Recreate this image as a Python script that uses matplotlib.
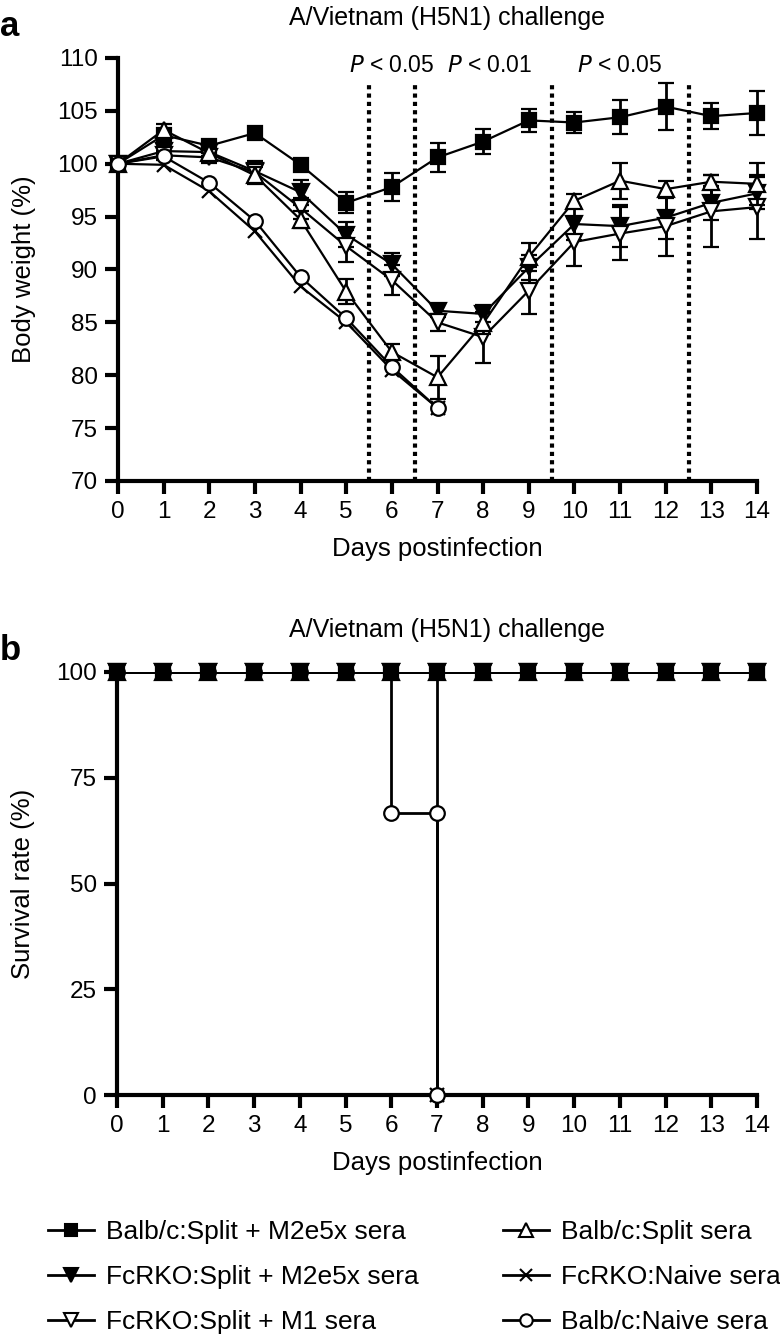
import matplotlib
matplotlib.use("Agg")
import matplotlib.pyplot as plt
from matplotlib.lines import Line2D

plt.rcParams['font.family'] = ['Liberation Sans', 'DejaVu Sans']

# Body weight (%) per day postinfection
days = list(range(15))
days_short = list(range(8))

sq_w = [100, 102.7, 101.7, 102.9, 99.9, 96.3, 97.8, 100.6, 102.1, 104.1, 103.9, 104.4, 105.4, 104.5, 104.8]
sq_e = [0, 0.5, 0.4, 0.4, 0.4, 1.0, 1.3, 1.4, 1.2, 1.1, 1.0, 1.6, 2.2, 1.2, 2.1]
fv_w = [100, 101.2, 101.1, 99.3, 97.3, 93.3, 90.5, 86.1, 85.8, 90.2, 94.3, 94.1, 94.9, 96.3, 97.2]
fv_e = [0, 0.4, 0.4, 1.0, 1.2, 1.2, 1.1, 0.6, 0.8, 1.2, 1.5, 2.0, 2.0, 1.6, 1.5]
ov_w = [100, 100.8, 100.6, 99.2, 95.8, 92.2, 89.0, 85.0, 83.6, 88.0, 92.6, 93.4, 94.1, 95.5, 95.9]
ov_e = [0, 0.4, 0.5, 1.0, 1.0, 1.5, 1.4, 0.8, 2.4, 2.2, 2.3, 2.5, 2.8, 3.4, 3.0]
tu_w = [100, 103.2, 101.0, 98.9, 94.7, 87.9, 82.2, 79.8, 84.9, 91.2, 96.5, 98.4, 97.6, 98.3, 98.1]
tu_e = [0, 0.6, 0.4, 0.8, 0.8, 1.2, 0.8, 2.0, 1.0, 1.3, 0.6, 1.7, 0.8, 0.6, 2.0]
xn_w = [100, 99.9, 97.4, 93.6, 88.4, 85.0, 80.5, 76.9]
ci_w = [100, 100.7, 98.2, 94.6, 89.3, 85.4, 80.8, 76.9]

# Survival rate (%)
surv_all = [100] * 15
xn_sd = [0, 1, 2, 3, 4, 5, 6, 7]
xn_s = [100, 100, 100, 100, 100, 100, 100, 0]
ci_sd = [0, 1, 2, 3, 4, 5, 6, 7, 7]
ci_s = [100, 100, 100, 100, 100, 100, 66.7, 66.7, 0]

labels = ["Balb/c:Split + M2e5x sera", "FcRKO:Split + M2e5x sera", "FcRKO:Split + M1 sera",
          "Balb/c:Split sera", "FcRKO:Naive sera", "Balb/c:Naive sera"]

pvals = ["$P$ < 0.05", "$P$ < 0.01", "$P$ < 0.05"]
p_x = [6.0, 8.15, 11.0]
sig_lines = [5.5, 6.5, 9.5, 12.5]
title = "A/Vietnam (H5N1) challenge"

styles = [
    dict(marker='s', mfc='black', ms=10.5),
    dict(marker='v', mfc='black', ms=12),
    dict(marker='v', mfc='white', ms=12),
    dict(marker='^', mfc='white', ms=12),
    dict(marker='x', mfc='black', ms=10),
    dict(marker='o', mfc='white', ms=10.5),
]

W, H = 780, 1335
fig = plt.figure(figsize=(7.8, 13.35), dpi=100)
ax_a = fig.add_axes([118 / W, 1 - 481 / H, (757 - 118) / W, (481 - 58) / H])
ax_b = fig.add_axes([117 / W, 1 - 1095 / H, (757 - 117) / W, (1095 - 672) / H])

for ax in (ax_a, ax_b):
    for s in ('top', 'right'):
        ax.spines[s].set_visible(False)
    for s in ('left', 'bottom'):
        ax.spines[s].set_linewidth(3)
    ax.tick_params(width=3, length=9.5, direction='out', labelsize=17.5, pad=5)
    ax.set_xlim(0, 14)
    ax.set_xticks(days)

# panel a
series = [(days, sq_w, sq_e), (days, fv_w, fv_e), (days, ov_w, ov_e),
          (days, tu_w, tu_e), (days_short, xn_w, None), (days_short, ci_w, None)]
for i in [4, 5, 3, 2, 1, 0]:
    x, y, e = series[i]
    st = styles[i]
    ax_a.errorbar(x, y, yerr=e, color='black', lw=1.6, marker=st['marker'], ms=st['ms'],
                  mfc=st['mfc'], mec='black', mew=1.6, capsize=5.5, elinewidth=2,
                  capthick=2, clip_on=False, zorder=3 + i)

for xv in sig_lines:
    ax_a.plot([xv, xv], [70, 107.7], ls=(0, (1, 1)), color='black', lw=3, zorder=1)
for xv, t in zip(p_x, pvals):
    ax_a.text(xv, 109.3, t, ha='center', va='center', fontsize=16.5)

ax_a.set_ylim(70, 110)
ax_a.set_yticks(range(70, 111, 5))
ax_a.set_ylabel("Body weight (%)", fontsize=18.5)
ax_a.yaxis.set_label_coords(-0.128, 0.5)
ax_a.set_xlabel("Days postinfection", fontsize=18.5, labelpad=10)

# panel b
surv = [(days, surv_all), (days, surv_all), (days, surv_all),
        (days, surv_all), (xn_sd, xn_s), (ci_sd, ci_s)]
for i in [3, 2, 1, 4, 5, 0]:
    x, y = surv[i]
    st = styles[i]
    ax_b.plot(x, y, drawstyle='steps-post', color='black', lw=2, zorder=2)
    ax_b.plot(x, y, ls='none', marker=st['marker'], ms=st['ms'], mfc=st['mfc'],
              mec='black', mew=1.6, clip_on=False, zorder=10 if i == 0 else 3 + i)

ax_b.set_ylim(0, 100)
ax_b.set_yticks([0, 25, 50, 75, 100])
ax_b.set_ylabel("Survival rate (%)", fontsize=18.5)
ax_b.yaxis.set_label_coords(-0.128, 0.5)
ax_b.set_xlabel("Days postinfection", fontsize=18.5, labelpad=10)

fig.text(447 / W, 1 - 18 / H, title, fontsize=18, ha='center', va='center')
fig.text(447 / W, 1 - 630 / H, title, fontsize=18, ha='center', va='center')
fig.text(0, 1 - 26 / H, "a", fontsize=25, fontweight='bold', va='center')
fig.text(0, 1 - 651 / H, "b", fontsize=25, fontweight='bold', va='center')

handles = [Line2D([], [], color='black', lw=2, marker=st['marker'], ms=st['ms'] * 0.85,
                  mfc=st['mfc'], mec='black', mew=1.5) for st in styles]
fig.legend(handles, labels, ncol=2, loc='upper left', bbox_to_anchor=(48 / W, 1 - 1220 / H),
           frameon=False, fontsize=19, handlelength=1.75,
           labelspacing=0.8, columnspacing=3.2, handletextpad=0.45, borderaxespad=0,
           borderpad=0)

fig.savefig("out.png", dpi=100)
